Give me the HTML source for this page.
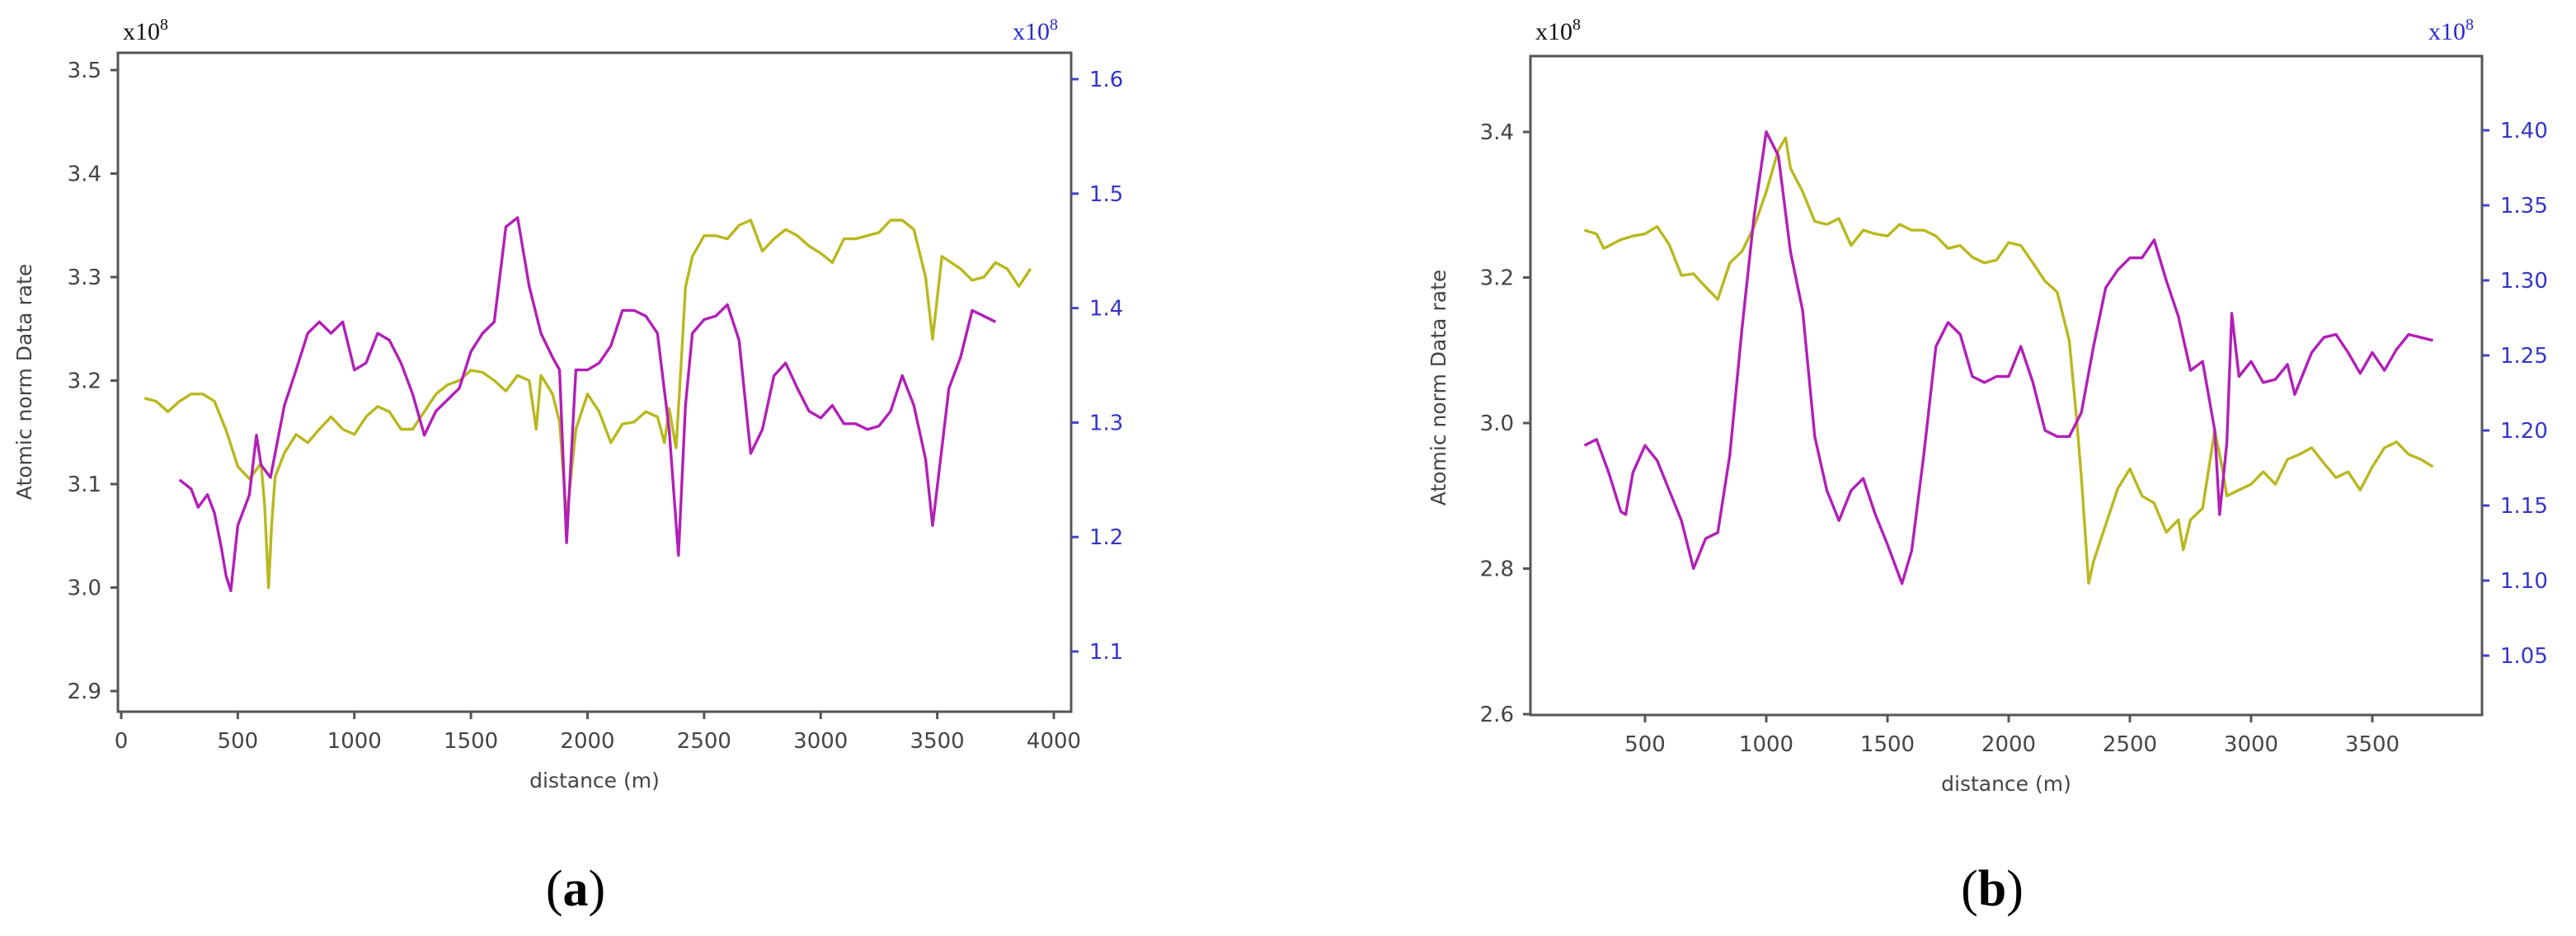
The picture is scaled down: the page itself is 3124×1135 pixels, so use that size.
<!DOCTYPE html>
<html><head><meta charset="utf-8"><style>
html,body{margin:0;padding:0;background:#fff;}
svg{display:block;}
.tk{font-family:"DejaVu Sans","Liberation Sans",sans-serif;font-size:26px;fill:#444;}
.tkb{font-family:"DejaVu Sans","Liberation Sans",sans-serif;font-size:26px;fill:#3535c8;}
.lab{font-family:"DejaVu Sans","Liberation Sans",sans-serif;font-size:25px;fill:#444;}
.mul{font-family:"Liberation Serif",serif;font-size:30px;fill:#111;}
.cap{font-family:"Liberation Serif",serif;font-size:62px;fill:#000;}
</style></head><body>
<svg id="fig" width="3124" height="1135" xmlns="http://www.w3.org/2000/svg"></svg>
<script>
// Panel (a) data
const aYelD=[100,150,200,250,300,350,400,450,500,550,600,615,632,645,660,700,750,800,850,900,950,1000,1050,1100,1150,1200,1250,1300,1350,1400,1450,1500,1550,1600,1650,1700,1750,1780,1800,1850,1880,1910,1950,2000,2050,2100,2150,2200,2250,2300,2330,2350,2380,2400,2420,2450,2500,2550,2600,2650,2700,2750,2800,2850,2900,2950,3000,3050,3100,3150,3200,3250,3300,3350,3400,3450,3480,3520,3600,3650,3700,3750,3800,3850,3900];
const aYelV=[3.183,3.18,3.17,3.18,3.187,3.187,3.18,3.152,3.117,3.105,3.12,3.08,3.0,3.06,3.107,3.13,3.148,3.14,3.153,3.165,3.153,3.148,3.165,3.175,3.17,3.153,3.153,3.17,3.187,3.196,3.2,3.21,3.208,3.2,3.19,3.205,3.2,3.153,3.205,3.187,3.16,3.066,3.153,3.187,3.17,3.14,3.158,3.16,3.17,3.165,3.14,3.173,3.135,3.21,3.29,3.32,3.34,3.34,3.337,3.35,3.355,3.325,3.337,3.346,3.34,3.33,3.323,3.314,3.337,3.337,3.34,3.343,3.355,3.355,3.346,3.30,3.24,3.32,3.308,3.297,3.30,3.314,3.308,3.291,3.308];
const aMagD=[250,300,330,370,400,430,450,470,500,550,580,600,640,700,750,800,850,900,950,1000,1050,1100,1150,1200,1250,1300,1350,1400,1450,1500,1550,1600,1650,1700,1750,1800,1850,1880,1910,1950,2000,2050,2100,2150,2200,2250,2300,2350,2390,2420,2450,2500,2550,2600,2650,2700,2750,2800,2850,2900,2950,3000,3050,3100,3150,3200,3250,3300,3350,3400,3450,3480,3520,3550,3600,3650,3700,3750];
const aMagV=[1.25,1.242,1.226,1.237,1.221,1.19,1.166,1.153,1.21,1.237,1.289,1.263,1.252,1.315,1.346,1.378,1.388,1.378,1.388,1.346,1.352,1.378,1.372,1.352,1.325,1.289,1.31,1.32,1.33,1.362,1.378,1.388,1.471,1.479,1.419,1.378,1.357,1.346,1.195,1.346,1.346,1.352,1.367,1.398,1.398,1.393,1.378,1.294,1.184,1.315,1.378,1.39,1.393,1.403,1.372,1.273,1.294,1.341,1.352,1.33,1.31,1.304,1.315,1.299,1.299,1.294,1.297,1.31,1.341,1.315,1.268,1.21,1.278,1.33,1.357,1.398,1.393,1.388];
const aXTicks=[0,500,1000,1500,2000,2500,3000,3500,4000];
const aLTicks=["2.9","3.0","3.1","3.2","3.3","3.4","3.5"];
const aRTicks=["1.1","1.2","1.3","1.4","1.5","1.6"];
// Panel (b) data
const bYelD=[250,300,330,400,450,500,550,600,650,700,750,800,850,900,950,1000,1050,1080,1100,1150,1200,1250,1300,1350,1400,1450,1500,1550,1600,1650,1700,1750,1800,1850,1900,1950,2000,2050,2100,2150,2200,2250,2280,2300,2330,2350,2400,2450,2500,2550,2600,2650,2700,2720,2750,2800,2850,2880,2900,2950,3000,3050,3100,3150,3200,3250,3300,3350,3400,3450,3500,3550,3600,3650,3700,3750];
const bYelV=[3.265,3.26,3.24,3.252,3.257,3.26,3.27,3.245,3.203,3.205,3.187,3.17,3.22,3.236,3.27,3.318,3.375,3.392,3.35,3.318,3.277,3.273,3.281,3.244,3.265,3.26,3.257,3.273,3.265,3.265,3.257,3.24,3.244,3.228,3.22,3.224,3.248,3.244,3.22,3.195,3.18,3.113,3.007,2.925,2.78,2.81,2.86,2.91,2.937,2.9,2.89,2.85,2.867,2.826,2.867,2.883,2.99,2.94,2.9,2.908,2.916,2.933,2.916,2.95,2.957,2.966,2.945,2.925,2.933,2.908,2.94,2.966,2.974,2.957,2.95,2.94];
const bMagD=[250,300,350,400,420,450,500,550,600,650,700,750,800,850,900,950,1000,1050,1100,1150,1200,1250,1300,1350,1400,1450,1500,1560,1600,1650,1700,1750,1800,1850,1900,1950,2000,2050,2100,2150,2200,2250,2300,2350,2400,2450,2500,2550,2600,2650,2700,2750,2800,2850,2870,2900,2920,2950,3000,3050,3100,3150,3180,3200,3250,3300,3350,3400,3450,3500,3550,3600,3650,3700,3750];
const bMagV=[1.19,1.194,1.172,1.146,1.144,1.172,1.19,1.18,1.16,1.14,1.108,1.128,1.132,1.184,1.268,1.343,1.399,1.383,1.319,1.28,1.196,1.16,1.14,1.16,1.168,1.144,1.124,1.098,1.12,1.184,1.256,1.272,1.264,1.236,1.232,1.236,1.236,1.256,1.232,1.2,1.196,1.196,1.212,1.256,1.295,1.307,1.315,1.315,1.327,1.3,1.276,1.24,1.246,1.2,1.144,1.192,1.278,1.236,1.246,1.232,1.234,1.244,1.224,1.232,1.252,1.262,1.264,1.252,1.238,1.252,1.24,1.254,1.264,1.262,1.26];
const bXTicks=[500,1000,1500,2000,2500,3000,3500];
const bLTicks=["2.6","2.8","3.0","3.2","3.4"];
const bRTicks=["1.05","1.10","1.15","1.20","1.25","1.30","1.35","1.40"];

const NS="http://www.w3.org/2000/svg";
const svg=document.getElementById('fig');
function mk(tag,attrs,parent,text){const e=document.createElementNS(NS,tag);for(const k in attrs)e.setAttribute(k,attrs[k]);if(text!==undefined)e.textContent=text;(parent||svg).appendChild(e);return e;}

function panel(p){
  const g=mk('g',{});
  
  
  const xs=d=>p.x0+(d-p.d0)*p.xs;
  const yl=v=>p.ly0+(p.lv0-v)*p.lys;
  const yr=v=>p.ry0+(p.rv0-v)*p.rys;
  const path=(D,V,f,col,nm)=>{
    let s='';D.forEach((d,i)=>{s+=(i?'L':'M')+xs(d).toFixed(1)+' '+f(V[i]).toFixed(1);});
    const e=mk('path',{d:s,fill:'none',stroke:col,'stroke-width':3.4,'stroke-linejoin':'round'},g);
    
    
  };
  path(p.yD,p.yV,yl,'#b9b81e',p.id+'-yellow-line');
  path(p.mD,p.mV,yr,'#b21fb8',p.id+'-magenta-line');
  const fr=mk('rect',{x:p.L,y:p.T,width:p.R-p.L,height:p.B-p.T,fill:'none',stroke:'#555','stroke-width':3},g);
  
  
  p.xt.forEach(d=>{const x=xs(d);
    mk('line',{x1:x,x2:x,y1:p.B,y2:p.B+9,stroke:'#555','stroke-width':3},g);
    const t=mk('text',{x:x,y:p.B+44,'text-anchor':'middle',class:'tk'},g,String(d));
    
    
  });
  p.lt.forEach(s=>{const y=yl(parseFloat(s));
    mk('line',{x1:p.L-9,x2:p.L,y1:y,y2:y,stroke:'#555','stroke-width':3},g);
    const t=mk('text',{x:p.L-20,y:y+9,'text-anchor':'end',class:'tk'},g,s);
    
    
  });
  p.rt.forEach(s=>{const y=yr(parseFloat(s));
    mk('line',{x1:p.R,x2:p.R+9,y1:y,y2:y,stroke:'#4444cc','stroke-width':3},g);
    const t=mk('text',{x:p.R+22,y:y+9,'text-anchor':'start',class:'tkb'},g,s);
    
    
  });
  const xl=mk('text',{x:(p.L+p.R)/2,y:p.B+92,'text-anchor':'middle',class:'lab'},g,'distance (m)');
  
  
  const yt=mk('text',{x:0,y:0,'text-anchor':'middle',class:'lab',transform:`translate(${p.ylx},${p.yly}) rotate(-90)`},g,'Atomic norm Data rate');
  
  
  const m1=mk('text',{x:p.L+6,y:48,class:'mul'},g);
  
  
  m1.innerHTML='x10<tspan dy="-12" font-size="20">8</tspan>';
  const m2=mk('text',{x:p.mrx,y:48,class:'mul',style:'fill:#2a2ad0'},g);
  
  
  m2.innerHTML='x10<tspan dy="-12" font-size="20">8</tspan>';
  const c=mk('text',{x:p.cx,y:1098,'text-anchor':'middle',class:'cap'},g);
  
  
  c.innerHTML='(<tspan font-weight="bold">'+p.id.slice(-1)+'</tspan>)';
}
panel({id:'panel-a',L:143,R:1299,T:64,B:863,x0:147,d0:0,xs:0.28275,
  ly0:85,lv0:3.5,lys:1255,ry0:96,rv0:1.6,rys:1388,
  yD:aYelD,yV:aYelV,mD:aMagD,mV:aMagV,xt:aXTicks,lt:aLTicks,rt:aRTicks,
  ylx:38,yly:463,mrx:1228,cx:698});
panel({id:'panel-b',L:1856,R:3010,T:68,B:867,x0:1995,d0:500,xs:0.294,
  ly0:160,lv0:3.4,lys:882.5,ry0:158,rv0:1.4,rys:1820,
  yD:bYelD,yV:bYelV,mD:bMagD,mV:bMagV,xt:bXTicks,lt:bLTicks,rt:bRTicks,
  ylx:1753,yly:470,mrx:2945,cx:2416});
</script>
</body></html>
